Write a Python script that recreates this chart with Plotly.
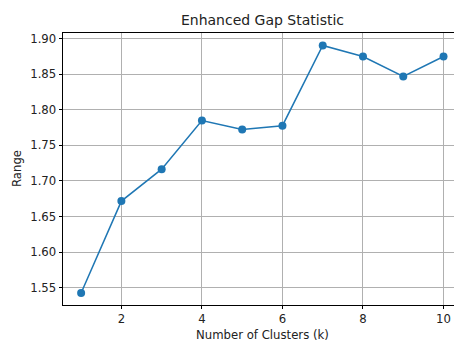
import plotly.graph_objects as go

# Gap statistic values for each candidate number of clusters
k_values = [1, 2, 3, 4, 5, 6, 7, 8, 9, 10]
gap_range = [1.5425, 1.6717, 1.7165, 1.785, 1.7725, 1.7777, 1.8905, 1.875, 1.847, 1.875]
x_ticks = [2, 4, 6, 8, 10]
y_ticks = [1.55, 1.60, 1.65, 1.70, 1.75, 1.80, 1.85, 1.90]

W, H = 454, 345
L, R, T, B = 63, 0, 33, 40
FONT = "DejaVu Sans"
TICK_SIZE = 11.7
TITLE_SIZE = 14

fig = go.Figure(
    go.Scatter(
        x=k_values,
        y=gap_range,
        mode="lines+markers",
        line=dict(color="#1f77b4", width=1.5),
        marker=dict(color="#1f77b4", size=8),
        showlegend=False,
    )
)

axis_common = dict(
    showgrid=True,
    gridcolor="#b0b0b0",
    gridwidth=0.8,
    showline=True,
    linecolor="black",
    linewidth=0.8,
    ticks="outside",
    ticklen=3.5,
    tickwidth=0.8,
    tickcolor="black",
    zeroline=False,
    tickfont=dict(family=FONT, size=TICK_SIZE, color="#222222"),
)

fig.update_xaxes(
    range=[0.55, 10.26],
    tickvals=x_ticks,
    mirror=True,
    **axis_common,
)
fig.update_yaxes(
    range=[1.5256, 1.908],
    tickvals=y_ticks,
    tickformat=".2f",
    mirror=False,
    **axis_common,
)

pw = W - L - R
ph = H - T - B
fig.update_layout(
    width=W,
    height=H,
    margin=dict(l=L, r=R, t=T, b=B, pad=0),
    paper_bgcolor="white",
    plot_bgcolor="white",
    title=dict(
        text="Enhanced Gap Statistic",
        font=dict(family=FONT, size=TITLE_SIZE, color="#222222"),
        xref="paper",
        x=(262.5 - L) / pw,
        xanchor="center",
        yref="container",
        y=1 - 20 / H,
        yanchor="middle",
    ),
    annotations=[
        dict(
            text="Number of Clusters (k)",
            xref="paper", yref="paper",
            x=(262.5 - L) / pw, y=-(335 - (H - B)) / ph,
            xanchor="center", yanchor="middle",
            showarrow=False,
            font=dict(family=FONT, size=TICK_SIZE, color="#222222"),
        ),
        dict(
            text="Range",
            xref="paper", yref="paper",
            x=-(L - 17) / pw, y=0.5,
            xanchor="center", yanchor="middle",
            textangle=-90,
            showarrow=False,
            font=dict(family=FONT, size=TICK_SIZE, color="#222222"),
        ),
    ],
)

fig.write_html("out.html")
